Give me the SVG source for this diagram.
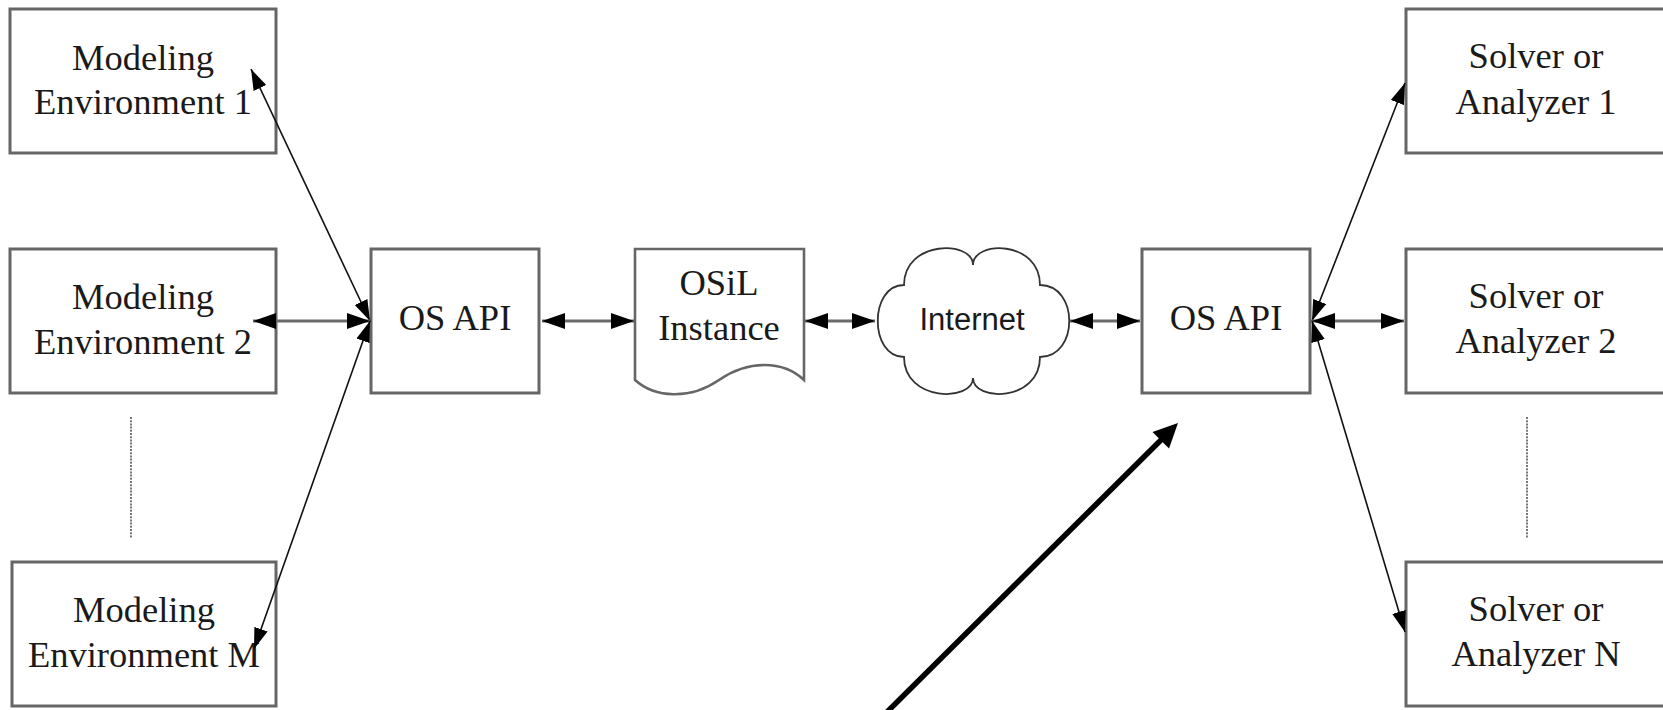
<svg xmlns="http://www.w3.org/2000/svg" width="1663" height="710" viewBox="0 0 1663 710">
<style>
.box{fill:#fff;stroke:#666;stroke-width:3}
.t{font-family:"Liberation Serif","Times New Roman",serif;font-size:36.5px;fill:#1a1a1a;text-anchor:middle}
.ts{font-family:"Liberation Sans",Arial,sans-serif;font-size:31px;fill:#1a1a1a;text-anchor:middle}
.h{stroke:#6a6a6a;stroke-width:3;fill:none}
.d{stroke:#111;stroke-width:1.6;fill:none}
.dot{stroke:#777;stroke-width:2;stroke-dasharray:2 1.2;fill:none}
</style>
<defs>
<marker id="ah" markerUnits="userSpaceOnUse" markerWidth="24" markerHeight="17" refX="23" refY="8" orient="auto-start-reverse" viewBox="0 0 24 17">
<path d="M0,0 L23,8 L0,16 Z" fill="#000"/>
</marker>
<marker id="ad" markerUnits="userSpaceOnUse" markerWidth="22" markerHeight="15" refX="21" refY="7" orient="auto-start-reverse" viewBox="0 0 22 15">
<path d="M0,0 L21,7 L0,14 Z" fill="#000"/>
</marker>
</defs>
<rect width="1663" height="710" fill="#fff"/>

<g id="me1"><rect class="box" x="10" y="9" width="266" height="144"/>
<text class="t" x="143" y="70">Modeling</text><text class="t" x="143" y="114">Environment 1</text></g>
<g id="me2"><rect class="box" x="10" y="249" width="266" height="144"/>
<text class="t" x="143" y="309">Modeling</text><text class="t" x="143" y="354">Environment 2</text></g>
<g id="mem"><rect class="box" x="12" y="562" width="264" height="144"/>
<text class="t" x="144" y="622">Modeling</text><text class="t" x="144" y="667">Environment M</text></g>
<g id="dots-left"><line class="dot" x1="131" y1="417" x2="131" y2="538"/></g>

<g id="osapi-left"><rect class="box" x="371" y="249" width="168" height="144"/>
<text class="t" x="455" y="330">OS API</text></g>

<g id="osil"><path class="box" d="M635,249 L804,249 L804,380 C783,360 748,360 719,380 C690,400 655,398 635,380 Z" style="stroke-width:2.6"/>
<text class="t" x="719" y="295">OSiL</text><text class="t" x="719" y="340">Instance</text></g>

<g id="internet"><path d="M904,285 C904,240 973,240 973,265 C973,240 1040,240 1040,285 C1079,285 1079,357 1040,357 C1040,402 973,402 973,378 C973,402 904,402 904,357 C869,357 869,285 904,285 Z" fill="#fff" stroke="#333" stroke-width="1.8"/>
<text class="ts" x="972" y="330">Internet</text></g>

<g id="osapi-right"><rect class="box" x="1142" y="249" width="168" height="144"/>
<text class="t" x="1226" y="330">OS API</text></g>

<g id="sa1"><rect class="box" x="1406" y="9" width="259" height="144"/>
<text class="t" x="1536" y="68">Solver or</text><text class="t" x="1536" y="114">Analyzer 1</text></g>
<g id="sa2"><rect class="box" x="1406" y="249" width="259" height="144"/>
<text class="t" x="1536" y="308">Solver or</text><text class="t" x="1536" y="353">Analyzer 2</text></g>
<g id="san"><rect class="box" x="1406" y="562" width="259" height="144"/>
<text class="t" x="1536" y="621">Solver or</text><text class="t" x="1536" y="666">Analyzer N</text></g>
<g id="dots-right"><line class="dot" x1="1527" y1="417" x2="1527" y2="538"/></g>

<g id="connectors">
<line class="d" x1="251" y1="69" x2="370" y2="321" marker-start="url(#ad)" marker-end="url(#ad)"/>
<line class="h" x1="253" y1="321" x2="370" y2="321" marker-start="url(#ah)" marker-end="url(#ah)"/>
<line class="d" x1="370" y1="321" x2="254" y2="649" marker-start="url(#ad)" marker-end="url(#ad)"/>
<line class="h" x1="542" y1="321" x2="634" y2="321" marker-start="url(#ah)" marker-end="url(#ah)"/>
<line class="h" x1="805" y1="321" x2="875" y2="321" marker-start="url(#ah)" marker-end="url(#ah)"/>
<line class="h" x1="1070" y1="321" x2="1140" y2="321" marker-start="url(#ah)" marker-end="url(#ah)"/>
<line class="d" x1="1312" y1="321" x2="1405" y2="83" marker-start="url(#ad)" marker-end="url(#ad)"/>
<line class="h" x1="1312" y1="321" x2="1404" y2="321" marker-start="url(#ah)" marker-end="url(#ah)"/>
<line class="d" x1="1312" y1="321" x2="1405" y2="632" marker-start="url(#ad)" marker-end="url(#ad)"/>
</g>
<g id="pointer">
<line x1="885" y1="714" x2="1163" y2="438" stroke="#000" stroke-width="5.5"/>
<polygon points="1178,423 1169,448.5 1152.5,432" fill="#000"/>
</g>
</svg>
